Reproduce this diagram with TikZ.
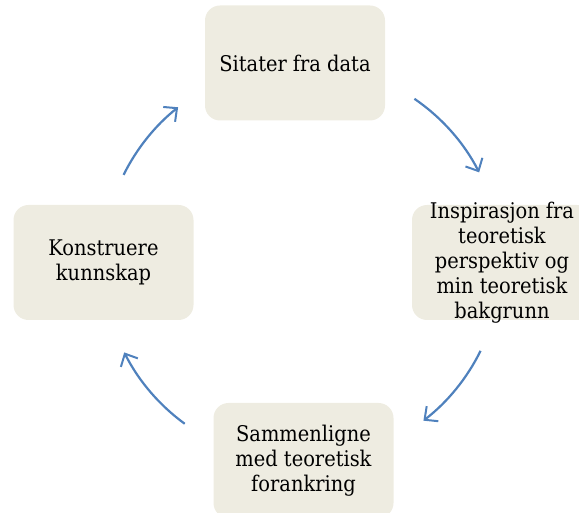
\documentclass[tikz,border=0pt]{standalone}
\usepackage{fontspec}
\setmainfont{DejaVu Serif Condensed}
\usetikzlibrary{arrows.meta}
\definecolor{boxfill}{HTML}{EEECE1}
\definecolor{arrblue}{HTML}{4F81BD}
\begin{document}
\begin{tikzpicture}[x=1pt,y=1pt,
  box/.style={fill=boxfill, rounded corners=15pt, minimum width=180pt, minimum height=115pt, inner sep=0pt},
  txt/.style={align=center, inner sep=0pt, font=\fontsize{21.6pt}{25pt}\selectfont, text=black},
  arr/.style={draw=arrblue, line width=2.2pt, -{Straight Barb[length=10pt,width=19pt,line width=2pt]}}]
\useasboundingbox (0,0) rectangle (579,512);
\clip (0,0) rectangle (579,512);
\node[box] (top) at (295,449) {};
\node[box] (right) at (502,249.5) {};
\node[box] (left) at (103.5,249.5) {};
\node[box] (bottom) at (303.5,51.5) {};
\node[txt] (toptxt) at (top.center) {Sitater fra data};
\node[txt] (righttxt) at (right.center) {Inspirasjon fra\\teoretisk\\perspektiv og\\min teoretisk\\bakgrunn};
\node[txt] (lefttxt) at (left.center) {Konstruere\\kunnskap};
\node[txt] (bottomtxt) at (bottom.center) {Sammenligne\\med teoretisk\\forankring};
\coordinate (c) at (302,249);
\path (c) ++(55.6:199) coordinate (a1);
\path (c) ++(-26.2:199) coordinate (a2);
\path (c) ++(233.9:199) coordinate (a3);
\path (c) ++(153.7:199) coordinate (a4);
\draw[arr] (a1) arc[start angle=55.6, end angle=27.1, radius=199];
\draw[arr] (a2) arc[start angle=-26.2, end angle=-52.4, radius=199];
\draw[arr] (a3) arc[start angle=233.9, end angle=206.7, radius=199];
\draw[arr] (a4) arc[start angle=153.7, end angle=128.5, radius=199];
\end{tikzpicture}
\end{document}
